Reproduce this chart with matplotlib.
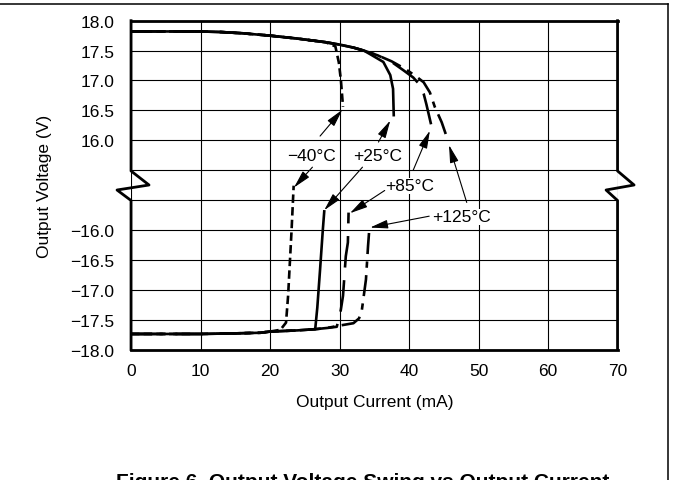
import numpy as np
import matplotlib
matplotlib.use('Agg')
import matplotlib.pyplot as plt
from matplotlib.lines import Line2D

plt.rcParams['font.family'] = ['Liberation Sans', 'DejaVu Sans']

# upper (positive swing) curves, mA / V
up_40_x = [0, 5, 10, 13, 16, 20, 24, 28, 29.4, 29.9, 30.2, 30.5]
up_40_v = [17.82, 17.82, 17.82, 17.81, 17.79, 17.75, 17.70, 17.64, 17.57, 17.30, 17.00, 16.56]
up_25_x = [0, 5, 10, 13, 16, 20, 24, 28, 30, 32, 33.5, 34.4, 36.3, 37.3, 37.7, 37.8]
up_25_v = [17.82, 17.82, 17.82, 17.81, 17.79, 17.75, 17.70, 17.64, 17.60, 17.55, 17.50, 17.44, 17.31, 17.09, 16.86, 16.42]
up_85_x = [0, 5, 10, 13, 16, 20, 24, 28, 30, 32, 33.5, 35.5, 37.5, 39.2, 40.6, 41.6, 42.1, 42.5, 43.3]
up_85_v = [17.82, 17.82, 17.82, 17.81, 17.79, 17.75, 17.70, 17.64, 17.60, 17.55, 17.50, 17.42, 17.31, 17.17, 17.05, 16.92, 16.78, 16.60, 16.20]
up_125_x = [0, 5, 10, 13, 16, 20, 24, 28, 30, 32, 33.5, 35.5, 37.5, 39.5, 41.0, 42.1, 43.0, 43.7, 44.7, 45.5]
up_125_v = [17.82, 17.82, 17.82, 17.81, 17.79, 17.75, 17.70, 17.64, 17.60, 17.55, 17.50, 17.42, 17.32, 17.19, 17.07, 16.97, 16.80, 16.56, 16.30, 16.03]

# lower (negative swing) curves
lo_40_x = [0, 5, 10, 15, 18.6, 20, 21.5, 22.3, 22.6, 22.8, 23.1, 23.4]
lo_40_v = [-17.74, -17.74, -17.74, -17.73, -17.72, -17.70, -17.67, -17.55, -17.10, -16.66, -16.00, -15.26]
lo_25_x = [0, 5, 10, 15, 18.6, 20, 22, 24, 26.5, 26.8, 27.2, 27.6, 27.8]
lo_25_v = [-17.74, -17.74, -17.74, -17.73, -17.72, -17.70, -17.69, -17.68, -17.66, -17.30, -16.66, -15.99, -15.69]
lo_85_x = [0, 5, 10, 15, 18.6, 20, 22, 24, 26.5, 28.2, 29.6, 30.1, 30.5, 30.9, 31.2, 31.3]
lo_85_v = [-17.74, -17.74, -17.74, -17.73, -17.72, -17.70, -17.69, -17.68, -17.66, -17.64, -17.62, -17.40, -17.10, -16.44, -16.21, -15.71]
lo_125_x = [0, 5, 10, 15, 18.6, 20, 22, 24, 26.5, 28.2, 30.0, 32.0, 32.8, 33.2, 33.8, 34.1, 34.3]
lo_125_v = [-17.74, -17.74, -17.74, -17.73, -17.72, -17.70, -17.69, -17.68, -17.66, -17.64, -17.60, -17.56, -17.48, -17.35, -16.83, -16.27, -15.96]

x_ticks = [0, 10, 20, 30, 40, 50, 60, 70]
y_ticks = [-18.0, -17.5, -17.0, -16.5, -16.0, 16.0, 16.5, 17.0, 17.5, 18.0]
y_labels = ['\u221218.0', '\u221217.5', '\u221217.0', '\u221216.5', '\u221216.0',
            '16.0', '16.5', '17.0', '17.5', '18.0']

styles = {
    '-40': (0, (3.2, 1.6)),
    '+25': '-',
    '+85': (0, (12, 4.8)),
    '+125': (0, (8, 2.8, 2.4, 2.8)),
}

# broken axis: -18..-15.5 below, +15.5..+18 above, half a volt of gap between
def fwd(v):
    v = np.asarray(v, dtype=float)
    return np.where(v > 0, v - 12.5, v + 18)

def inv(t):
    t = np.asarray(t, dtype=float)
    return np.where(t > 2.75, t + 12.5, t - 18)

fig = plt.figure(figsize=(6.73, 4.81), dpi=100)
ax = fig.add_axes([0.1947, 0.2713, 0.7229, 0.6836])
ax.set_yscale('function', functions=(fwd, inv))
ax.set_xlim(0, 70)
ax.set_ylim(-18, 18)

lw = 1.9
for xs, vs, key in [(up_125_x, up_125_v, '+125'), (up_85_x, up_85_v, '+85'),
                    (up_40_x, up_40_v, '-40'), (up_25_x, up_25_v, '+25'),
                    (lo_125_x, lo_125_v, '+125'), (lo_85_x, lo_85_v, '+85'),
                    (lo_40_x, lo_40_v, '-40'), (lo_25_x, lo_25_v, '+25')]:
    ax.plot(xs, vs, color='black', lw=lw, ls=styles[key], zorder=3)

fs = 12.5
ax.set_xticks(x_ticks)
ax.set_yticks(y_ticks)
ax.set_yticklabels(y_labels)
ax.tick_params(length=0, labelsize=fs, colors='black')
ax.tick_params(axis='y', pad=12)
ax.tick_params(axis='x', pad=10)
ax.grid(True, color='black', lw=0.8)
ax.axhline(15.5, color='black', lw=0.8)
ax.axhline(-15.5, color='black', lw=0.8)
ax.set_axisbelow(True)

ax.spines['top'].set_linewidth(2)
ax.spines['bottom'].set_linewidth(2)
ax.spines['left'].set_visible(False)
ax.spines['right'].set_visible(False)

# side borders with the zigzag break
left_x = [0, 0, 0.037, -0.0288, 0, 0]
right_x = [1, 1, 1.034, 0.9764, 1, 1]
side_y = [1, 0.543, 0.5003, 0.4851, 0.4532, 0]
ax.plot(left_x, side_y, transform=ax.transAxes, color='black', lw=2, clip_on=False, zorder=4)
ax.plot(right_x, side_y, transform=ax.transAxes, color='black', lw=2, clip_on=False, zorder=4)

ax.set_xlabel('Output Current (mA)', fontsize=fs, labelpad=11)
ax.set_ylabel('Output Voltage (V)', fontsize=fs)
ax.yaxis.set_label_coords(-0.162, 0.5)

# labels and arrows
labels = [('\u221240\u00b0C', 26.0, 15.75), ('+25\u00b0C', 35.5, 15.75),
          ('+85\u00b0C', 40.1, -15.26), ('+125\u00b0C', 47.5, -15.78)]
for s, lx, ly in labels:
    ax.text(lx, ly, s, ha='center', va='center', fontsize=fs, zorder=5,
            bbox=dict(facecolor='white', edgecolor='none', pad=0.5))

arrows = [((27.2, 16.07), (30.4, 16.51)),
          ((26.1, 15.55), (23.45, -15.29)),
          ((35.6, 15.97), (37.3, 16.33)),
          ((33.3, 15.55), (27.8, -15.67)),
          ((40.6, 15.50), (43.0, 16.16)),
          ((36.5, -15.34), (31.5, -15.72)),
          ((48.3, -15.54), (45.75, 15.92)),
          ((42.9, -15.77), (34.4, -15.96))]
for tail, tip in arrows:
    ax.annotate('', xy=tip, xytext=tail, zorder=5,
                arrowprops=dict(arrowstyle='-|>,head_length=0.9,head_width=0.22',
                                color='black', lw=0.8, mutation_scale=12,
                                shrinkA=0, shrinkB=0))

# page frame lines
fig.add_artist(Line2D([0, 0.9926], [0.9896, 0.9896], color='black', lw=1.1))
fig.add_artist(Line2D([0.9926, 0.9926], [0, 0.9896], color='black', lw=1.1))

fig.text(0.539, 0.0166, 'Figure 6. Output Voltage Swing vs Output Current',
         ha='center', va='top', fontsize=15, fontweight='bold')

fig.savefig('out.png', dpi=100)
